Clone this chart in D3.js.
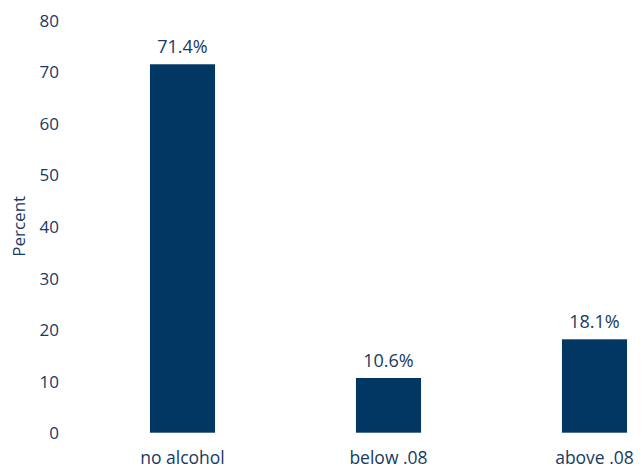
<!DOCTYPE html>
<html>
<head>
<meta charset="utf-8">
<script src="https://cdn.jsdelivr.net/npm/d3@7"></script>
<style>
  html, body { margin: 0; padding: 0; background: #ffffff; }
  svg { display: block; }
  text { font-family: "Open Sans", sans-serif; fill: #183a62; }
</style>
</head>
<body>
<svg id="chart" width="642" height="469"></svg>
<script>
const categories = ["no alcohol", "below .08", "above .08"];
const values = [71.4, 10.6, 18.1];
const valueLabels = ["71.4%", "10.6%", "18.1%"];
const yTicks = [0, 10, 20, 30, 40, 50, 60, 70, 80];
const yTitle = "Percent";

const svg = d3.select("#chart");
const barColor = "#023764";
const textColor = "#183a62";

const y = d3.scaleLinear().domain([0, 80]).range([432.7, 19.9]);
const x = d3.scaleBand().domain(categories).range([79.5, 697.5])
  .paddingInner(0.684).paddingOuter(0.342);

// y axis
const yAxis = svg.append("g").attr("transform", "translate(59,0)")
  .call(d3.axisLeft(y).tickValues(yTicks).tickSize(0).tickPadding(0).tickFormat(d3.format("d")));
yAxis.select(".domain").remove();
yAxis.selectAll("text").attr("font-size", 17).attr("font-family", "Open Sans, sans-serif")
  .attr("fill", textColor).attr("dy", "0.36em");

// y title
svg.append("text")
  .attr("transform", `translate(25,${(y(0) + y(80)) / 2}) rotate(-90)`)
  .attr("text-anchor", "middle")
  .attr("font-size", 17)
  .text(yTitle);

// bars
svg.append("g").selectAll("rect").data(values).join("rect")
  .attr("x", (d, i) => x(categories[i]))
  .attr("width", x.bandwidth())
  .attr("y", d => y(d))
  .attr("height", d => y(0) - y(d))
  .attr("fill", barColor);

// value labels
svg.append("g").selectAll("text").data(values).join("text")
  .attr("x", (d, i) => x(categories[i]) + x.bandwidth() / 2)
  .attr("y", d => y(d) - 11)
  .attr("text-anchor", "middle")
  .attr("font-size", 18)
  .text((d, i) => valueLabels[i]);

// x axis labels
const xAxis = svg.append("g").attr("transform", `translate(0,${y(0)})`)
  .call(d3.axisBottom(x).tickSize(0).tickPadding(0));
xAxis.select(".domain").remove();
xAxis.selectAll("text").attr("font-size", 17.5).attr("font-family", "Open Sans, sans-serif")
  .attr("fill", textColor).attr("dy", null).attr("y", 31.5);
</script>
</body>
</html>
